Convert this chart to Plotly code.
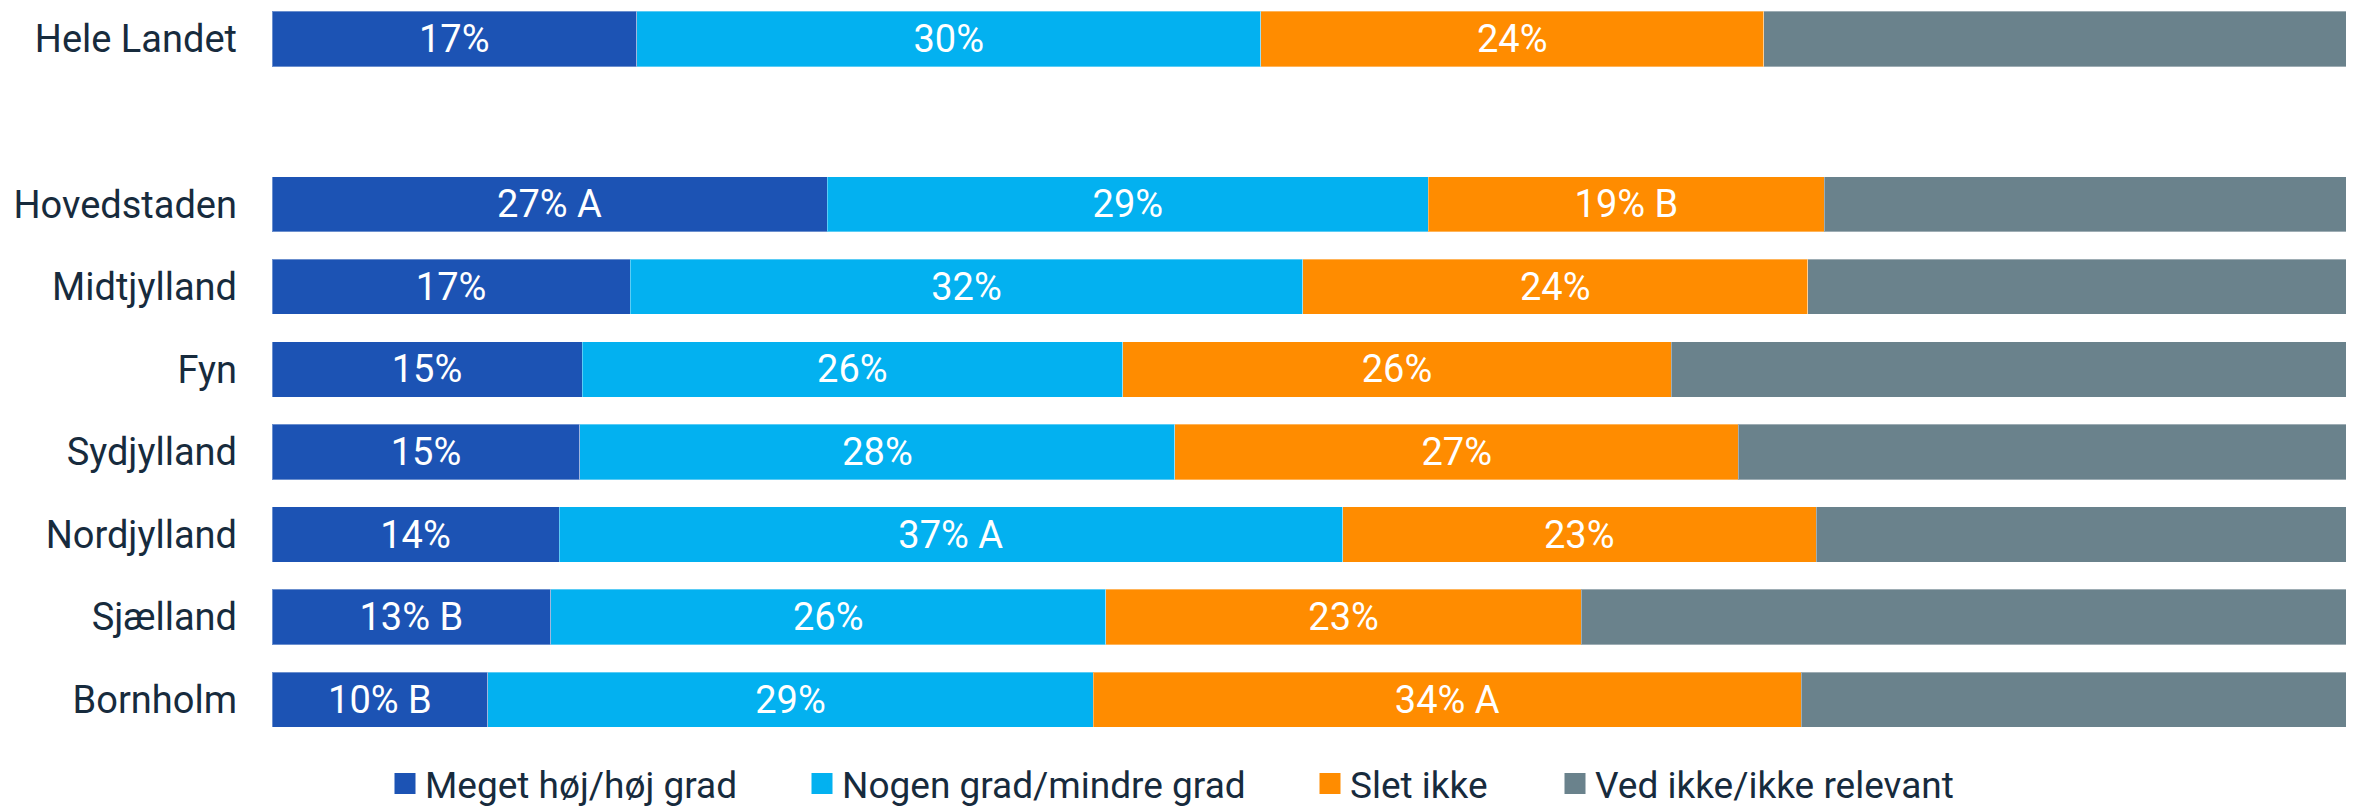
import plotly.graph_objects as go

# Regioner, oppefra og ned (et tomt mellemrum efter "Hele Landet")
regioner = ["Hele Landet", "Hovedstaden", "Midtjylland", "Fyn",
            "Sydjylland", "Nordjylland", "Sjælland", "Bornholm"]
mellemrum = " "

serier = ["Meget høj/høj grad", "Nogen grad/mindre grad", "Slet ikke", "Ved ikke/ikke relevant"]

hoej = [17.4, 26.5, 17.1, 14.8, 14.7, 13.7, 13.3, 10.3]
nogen = [29.8, 28.7, 32.1, 25.8, 28.4, 37.4, 26.5, 28.9]
slet_ikke = [24.0, 18.9, 24.1, 26.2, 26.9, 22.6, 22.7, 33.8]
ved_ikke = [28.8, 25.9, 26.7, 33.2, 30.0, 26.3, 37.5, 27.0]

hoej_tekst = ["17%", "27% A", "17%", "15%", "15%", "14%", "13% B", "10% B"]
nogen_tekst = ["30%", "29%", "32%", "26%", "28%", "37% A", "26%", "29%"]
slet_tekst = ["24%", "19% B", "24%", "26%", "27%", "23%", "23%", "34% A"]
ved_tekst = [""] * 8

_FARVER = {
    "hoej": "#1c53b4",
    "nogen": "#03b1f0",
    "slet": "#ff8c00",
    "ved": "#6a828c",
    "tekst": "#172b3d",
}

FONT = "Roboto, Arial, sans-serif"
BREDDE, HOEJDE = 2346, 799

fig = go.Figure()
legend_x = [377, 794, 1302, 1547]
for i, (navn, vaerdier, tekst, farve) in enumerate([
    (serier[0], hoej, hoej_tekst, _FARVER["hoej"]),
    (serier[1], nogen, nogen_tekst, _FARVER["nogen"]),
    (serier[2], slet_ikke, slet_tekst, _FARVER["slet"]),
    (serier[3], ved_ikke, ved_tekst, _FARVER["ved"]),
]):
    fig.add_trace(
        go.Bar(
            name=navn,
            x=vaerdier,
            y=regioner,
            orientation="h",
            marker={"color": farve, "line": {"width": 1, "color": "rgba(255,255,255,0.35)"}},
            text=tekst,
            textposition="inside",
            insidetextanchor="middle",
            textangle=0,
            constraintext="none",
            textfont={"color": "white", "size": 38, "family": FONT},
            hoverinfo="skip",
            showlegend=False,
        )
    )
    # egen forklaring pr. serie, så placeringen kan styres
    lg = "legend" if i == 0 else f"legend{i + 1}"
    fig.add_trace(
        go.Scatter(
            name=navn,
            x=[None],
            y=[None],
            mode="markers",
            marker={"symbol": "square", "size": 16, "color": farve,
                    "line": {"width": 5, "color": farve}},
            legend=lg,
            showlegend=True,
            hoverinfo="skip",
        )
    )

kategorier = list(reversed([regioner[0], mellemrum] + regioner[1:]))

legend_stil = {
    "orientation": "h",
    "xref": "container",
    "yref": "container",
    "y": 0.029,
    "yanchor": "middle",
    "xanchor": "left",
    "bgcolor": "rgba(0,0,0,0)",
    "font": {"size": 37, "color": _FARVER["tekst"], "family": FONT},
}

fig.update_layout(
    barmode="stack",
    bargap=0.33,
    width=BREDDE,
    height=HOEJDE,
    plot_bgcolor="white",
    paper_bgcolor="white",
    font={"family": FONT, "color": _FARVER["tekst"], "size": 38},
    margin={"t": 0, "b": 66, "l": 264, "r": 0, "pad": 0},
    showlegend=True,
    legend={**legend_stil, "x": legend_x[0] / BREDDE},
    legend2={**legend_stil, "x": legend_x[1] / BREDDE},
    legend3={**legend_stil, "x": legend_x[2] / BREDDE},
    legend4={**legend_stil, "x": legend_x[3] / BREDDE},
    xaxis={
        "range": [0, 99.38],
        "visible": False,
        "showgrid": False,
        "zeroline": False,
    },
    yaxis={
        "type": "category",
        "categoryorder": "array",
        "categoryarray": kategorier,
        "range": [-0.5, 8.376],
        "showgrid": False,
        "zeroline": False,
        "showline": False,
        "ticks": "",
        "ticklabelstandoff": 34,
        "tickfont": {"size": 38, "color": _FARVER["tekst"], "family": FONT},
    },
)

fig.write_html("out.html")
